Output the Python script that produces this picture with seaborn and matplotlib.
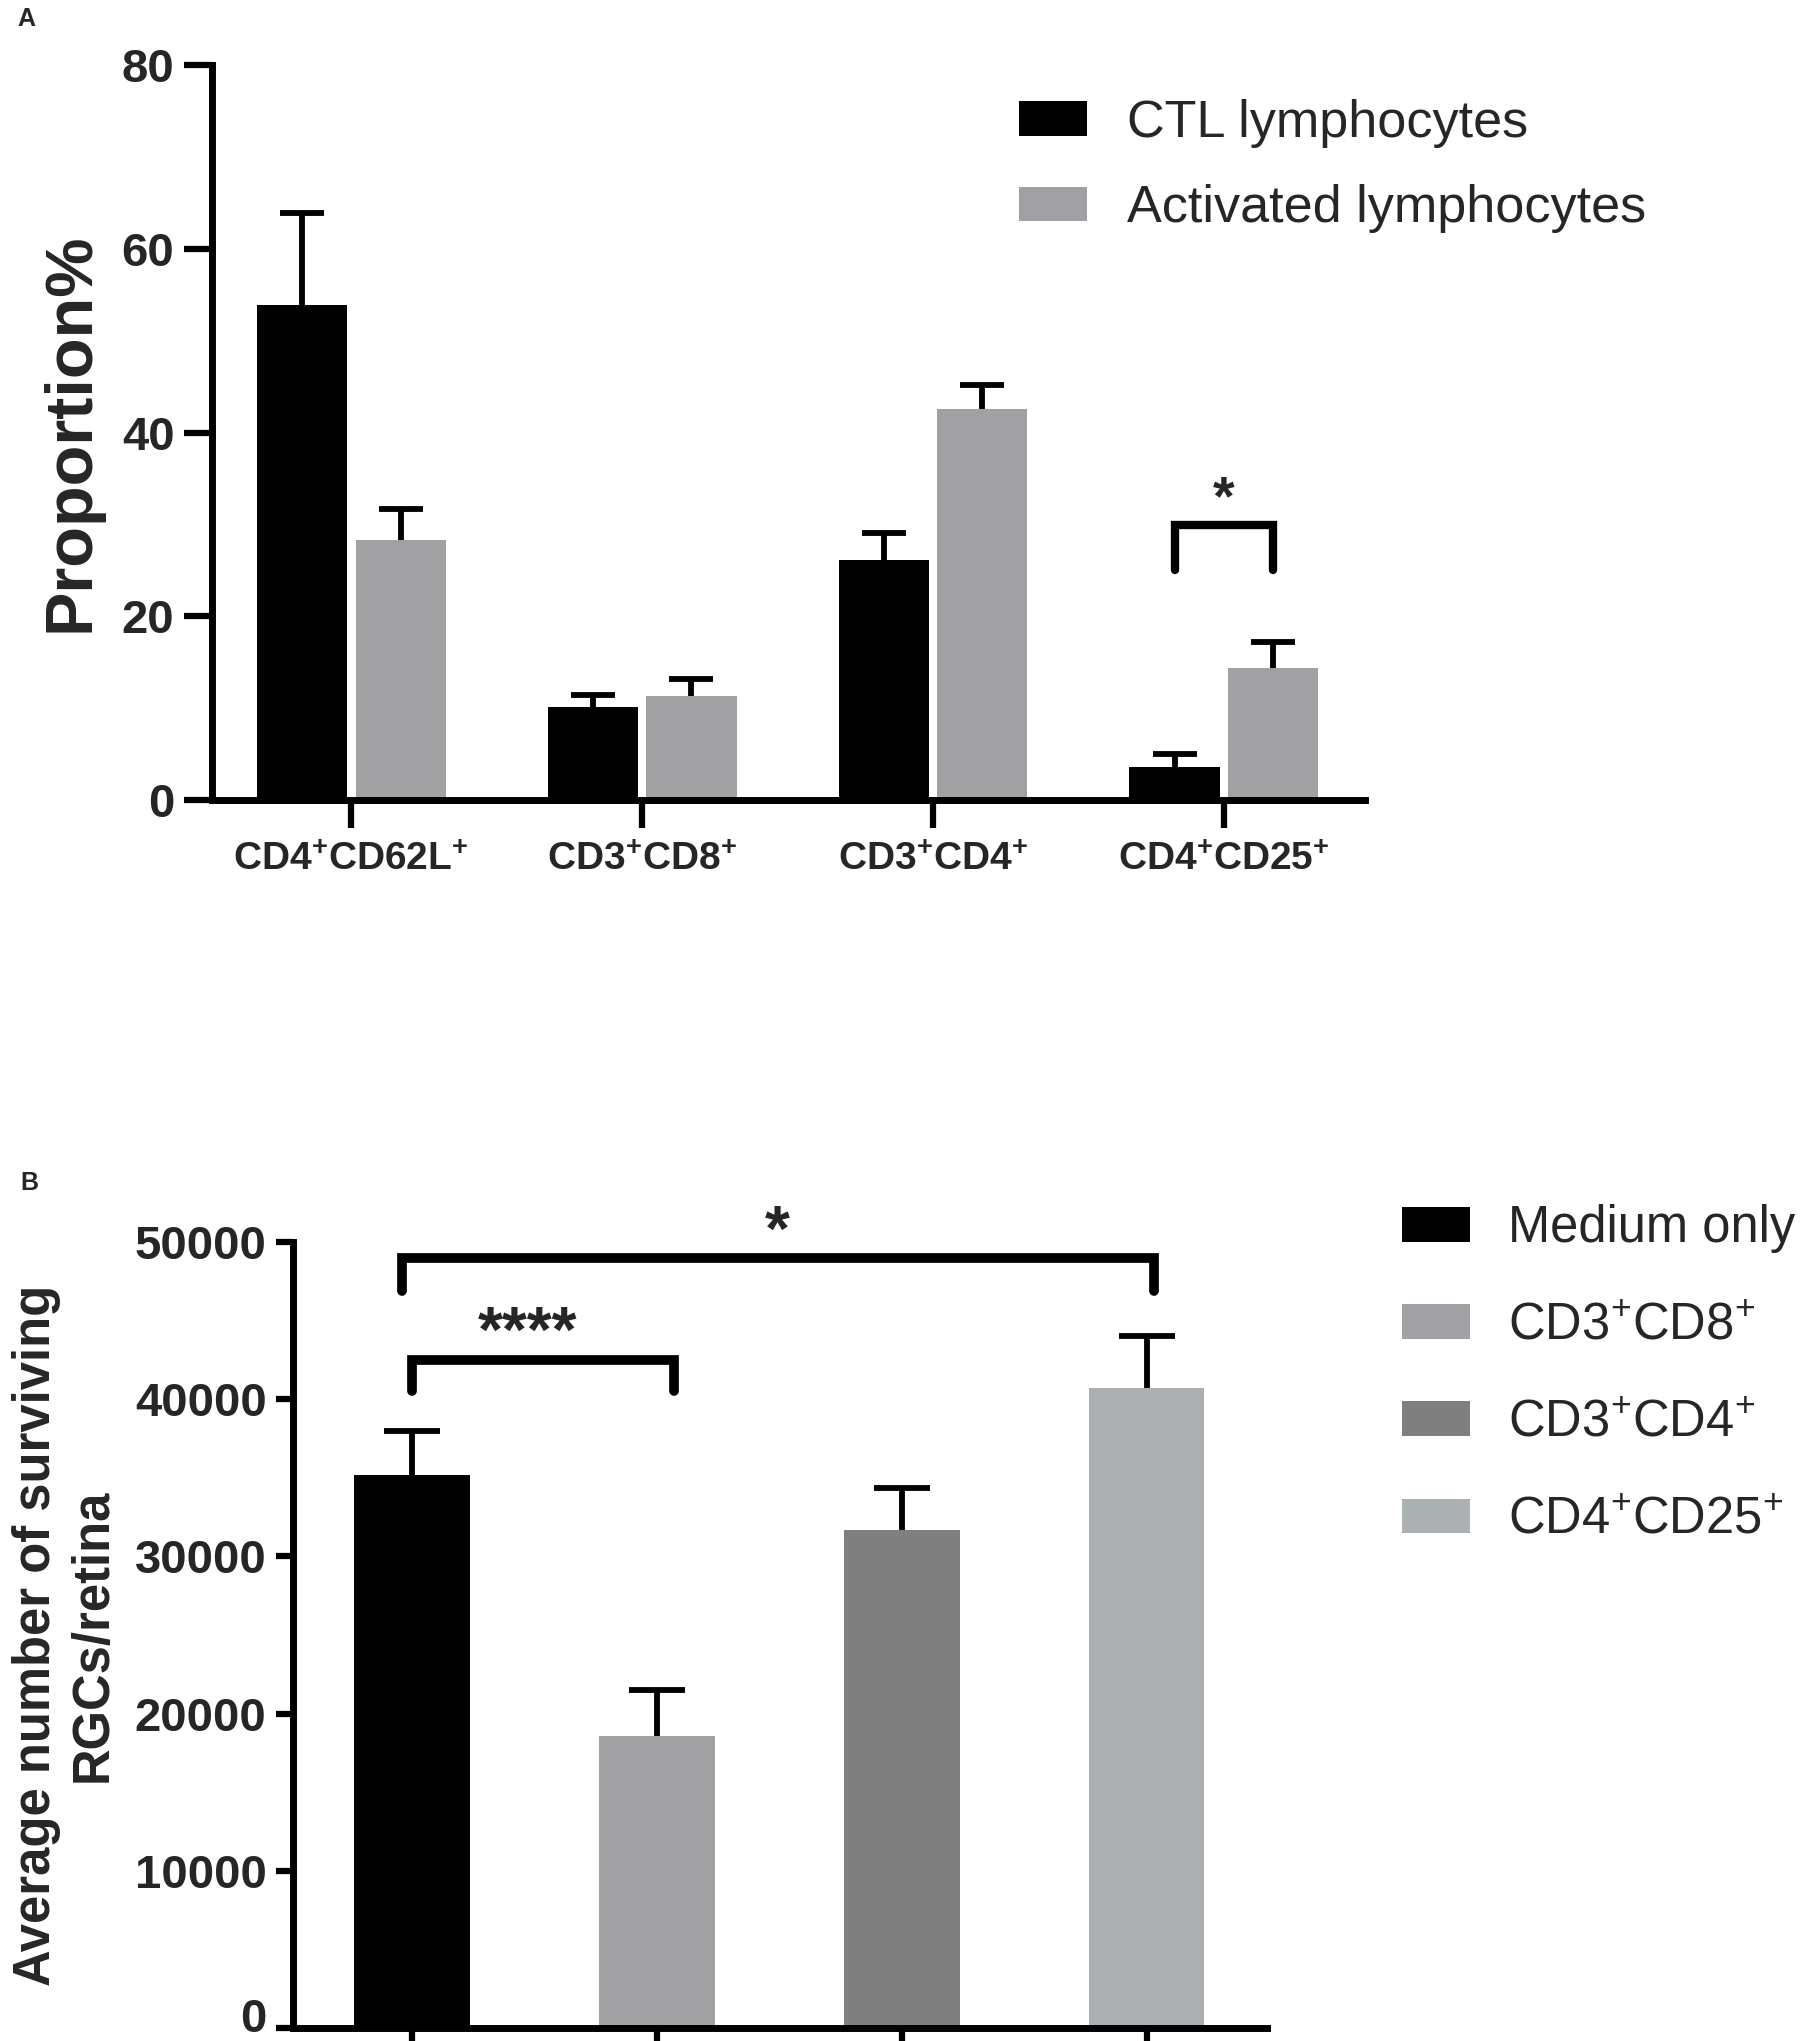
import numpy as np
import pandas as pd
import seaborn as sns
from matplotlib import pyplot as plt
from matplotlib.patches import Patch
from matplotlib.transforms import ScaledTranslation

# ---- panel A data ----
cells_a = ["CD4$^{+}$CD62L$^{+}$", "CD3$^{+}$CD8$^{+}$",
           "CD3$^{+}$CD4$^{+}$", "CD4$^{+}$CD25$^{+}$"]
groups_a = ["CTL lymphocytes", "Activated lymphocytes"]
ctl_mean = [53.9, 10.1, 26.1, 3.6]
ctl_sem = [10.0, 1.3, 3.0, 1.4]
act_mean = [28.3, 11.3, 42.6, 14.4]
act_sem = [3.4, 1.9, 2.6, 2.8]
colors_a = ["#000000", "#a1a0a5"]
yticks_a = [0, 20, 40, 60, 80]

# ---- panel B data ----
groups_b = ["Medium only", "CD3$^{+}$CD8$^{+}$", "CD3$^{+}$CD4$^{+}$", "CD4$^{+}$CD25$^{+}$"]
rgc_mean = [35200, 18600, 31700, 40700]
rgc_sem = [2750, 2900, 2650, 3300]
colors_b = ["#000000", "#a1a0a5", "#7f7f7f", "#abb0b3"]
yticks_b = [0, 10000, 20000, 30000, 40000, 50000]

sns.set_theme(style="white")
plt.rcParams['font.family'] = ['Liberation Sans', 'DejaVu Sans']
plt.rcParams['mathtext.default'] = 'regular'

fig = plt.figure(figsize=(18.04, 20.41), dpi=100)


def upper_errorbar(ax, x, mean, sem, capsize):
    eb = ax.errorbar(x, mean, yerr=[np.zeros(len(mean)), sem], fmt='none',
                     ecolor='black', elinewidth=4.2, capsize=capsize, capthick=4.2)
    # hide the cap drawn at the bar top
    eb[1][0].set_visible(False)


# ================= panel A =================
df_a = pd.DataFrame({
    'cell': cells_a * 2,
    'group': [groups_a[0]] * 4 + [groups_a[1]] * 4,
    'value': ctl_mean + act_mean,
})
ax = fig.add_axes([0.1175, 0.608, 0.6392, 0.360])
sns.barplot(df_a, x='cell', y='value', hue='group', palette=colors_a,
            width=0.68, gap=0.09, errorbar=None, linewidth=0,
            legend=False, ax=ax)
xa = np.arange(len(cells_a))
upper_errorbar(ax, xa - 0.17, ctl_mean, ctl_sem, 15.5)
upper_errorbar(ax, xa + 0.17, act_mean, act_sem, 15.5)

ax.set_xlim(-0.478, 3.485)
ax.set_ylim(0, 80)
ax.set_yticks(yticks_a)
ax.set_xlabel('')
ax.set_ylabel('Proportion%', fontsize=48, fontweight='bold')
ax.yaxis.set_label_coords(-0.095, 0.5)
sns.despine(ax=ax)
for s in ['left', 'bottom']:
    ax.spines[s].set_linewidth(5)
    ax.spines[s].set_color('black')
ax.tick_params(axis='both', direction='out', length=20, width=4.5,
               color='black', pad=7, left=True, bottom=True)
ax.tick_params(axis='y', labelsize=34)
ax.tick_params(axis='x', labelsize=28, pad=10.5)
for t in ax.get_xticklabels() + ax.get_yticklabels():
    t.set_fontweight('bold')

# significance bracket
ax.plot([3 - 0.17, 3 - 0.17, 3 + 0.17, 3 + 0.17], [25, 30, 30, 25],
        color='black', lw=6, solid_joinstyle='miter', clip_on=False)
ax.text(3, 32.6, '*', ha='center', va='center', fontsize=40, fontweight='bold')

handles_a = [Patch(facecolor=c, edgecolor='none') for c in colors_a]
fig.legend(handles_a, groups_a, loc='upper left', bbox_to_anchor=(0.565, 0.9516),
           frameon=False, borderpad=0, borderaxespad=0, fontsize=37.5,
           handlelength=1.3, handleheight=0.65, handletextpad=0.77,
           labelspacing=0.7)

fig.text(17 / 1804, 1 - 26 / 2041, 'A', fontsize=18, fontweight='bold')

# ================= panel B =================
df_b = pd.DataFrame({'group': groups_b, 'value': rgc_mean})
bx = fig.add_axes([0.1624, 0.00637, 0.5399, 0.3851])
sns.barplot(df_b, x='group', y='value', hue='group', palette=colors_b,
            width=0.47, errorbar=None, linewidth=0, legend=False, ax=bx)
xb = np.arange(len(groups_b))
upper_errorbar(bx, xb, rgc_mean, rgc_sem, 20.5)

bx.set_xlim(-0.486, 3.49)
bx.set_ylim(0, 50000)
bx.set_yticks(yticks_b)
bx.set_xlabel('')
bx.set_ylabel('Average number of surviving\nRGCs/retina', fontsize=36.5,
              fontweight='bold', linespacing=1.2)
bx.yaxis.set_label_coords(-0.18, 0.5)
sns.despine(ax=bx)
for s in ['left', 'bottom']:
    bx.spines[s].set_linewidth(5)
    bx.spines[s].set_color('black')
bx.tick_params(axis='both', direction='out', length=12, width=4.5,
               color='black', pad=7, left=True, bottom=True)
bx.tick_params(axis='x', length=20, labelbottom=False)
bx.tick_params(axis='y', labelsize=34)
for t in bx.get_yticklabels():
    t.set_fontweight('bold')
# the "0" label sits a little above its tick so it stays inside the figure
zero_lbl = bx.yaxis.get_major_ticks()[0].label1
zero_lbl.set_transform(zero_lbl.get_transform()
                       + ScaledTranslation(0, 0.13, fig.dpi_scale_trans))

bx.plot([-0.04, -0.04, 3.03, 3.03], [46900, 49000, 49000, 46900],
        color='black', lw=7, solid_joinstyle='miter', clip_on=False)
bx.text(1.49, 50500, '*', ha='center', va='center', fontsize=46, fontweight='bold')
bx.plot([0.0, 0.0, 1.07, 1.07], [40500, 42500, 42500, 40500],
        color='black', lw=7, solid_joinstyle='miter', clip_on=False)
bx.text(0.47, 44100, '****', ha='center', va='center', fontsize=46, fontweight='bold')

handles_b = [Patch(facecolor=c, edgecolor='none') for c in colors_b]
fig.legend(handles_b, groups_b, loc='upper left', bbox_to_anchor=(0.777, 0.410),
           frameon=False, borderpad=0, borderaxespad=0, fontsize=36.5,
           handlelength=1.34, handleheight=0.67, handletextpad=0.75,
           labelspacing=0.95)

fig.text(20 / 1804, 1 - 1190 / 2041, 'B', fontsize=18, fontweight='bold')

fig.savefig('out.png', dpi=100)
